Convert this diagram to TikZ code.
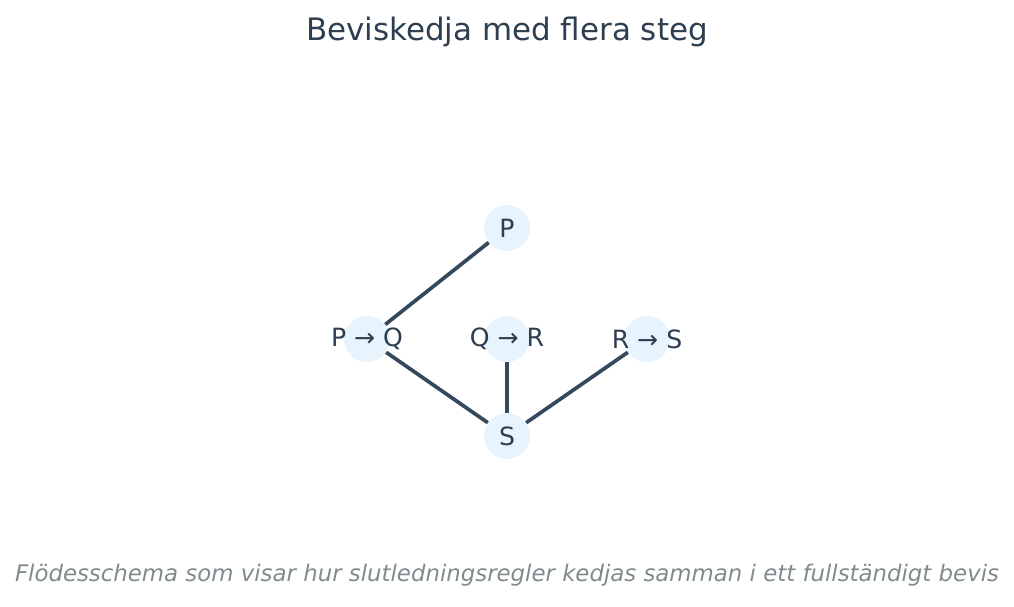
\documentclass[tikz,border=0pt]{standalone}
\usepackage{fontspec}
\setmainfont{DejaVu Sans}
\usetikzlibrary{positioning}
\definecolor{inktext}{HTML}{2C3E50}
\definecolor{inkedge}{HTML}{34495E}
\definecolor{stepfill}{HTML}{E8F4FD}
\definecolor{capgray}{HTML}{7F8C8D}
\tikzset{
  stepnode/.style={circle, fill=stepfill, draw=none, minimum size=9.2mm, inner sep=0pt},
  steptext/.style={text=inktext, font=\fontsize{14.3}{16}\selectfont, inner sep=0pt},
  chain/.style={draw=inkedge, line width=2.1pt}
}
\begin{document}
\begin{tikzpicture}[x=0.2mm, y=-0.2mm]
			%%%%% START %%%%%
			
			\useasboundingbox (0, 0) rectangle (1014, 607);
			
			\node[text=inktext, font=\fontsize{17.6}{20}\selectfont] (title) at (507, 32) {Beviskedja med flera steg};
			
			\node[stepnode, label={[steptext]center:P}] (p) at (507, 228) {};
			\node[stepnode, label={[steptext]center:P → Q}] (pq) at (367, 339) {};
			\node[stepnode, label={[steptext]center:Q → R}] (qr) at (507, 339) {};
			\node[stepnode, label={[steptext]center:R → S}] (rs) at (647, 339) {};
			\node[stepnode, label={[steptext]center:S}] (s) at (507, 436) {};
			
			\draw[chain] (pq) -- (p);
			\draw[chain] (pq) -- (s);
			\draw[chain] (qr) -- (s);
			\draw[chain] (rs) -- (s);
			
			\node[text=capgray, font=\fontsize{13}{15}\selectfont\itshape] (caption) at (507, 575) {Flödesschema som visar hur slutledningsregler kedjas samman i ett fullständigt bevis};
			
			%%%%% END %%%%%
\end{tikzpicture}
\end{document}
